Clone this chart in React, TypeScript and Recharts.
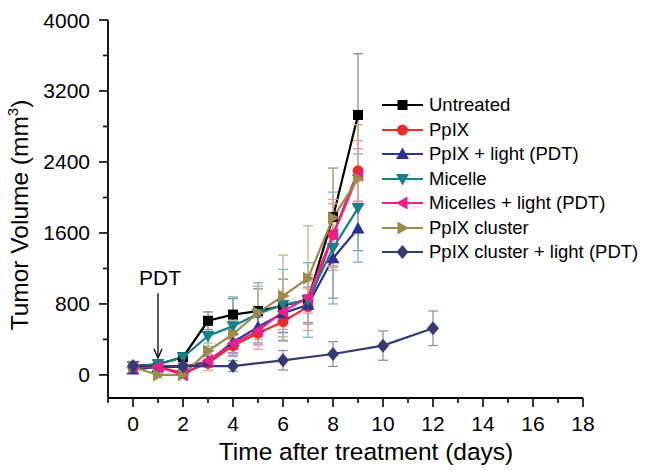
import { LineChart, Line, XAxis, YAxis, ErrorBar, Legend, ReferenceLine, Label } from "recharts";

const FONT = "'Liberation Sans', Arial, Helvetica, sans-serif";

// measurement days
const days = [0, 1, 2, 3, 4, 5, 6, 7, 8, 9];
const clusterLightDays = [0, 2, 4, 6, 8, 10, 12];

// tumor volumes (mm^3) and error bars
const untreated = [100, 120, 200, 610, 680, 720, 780, 850, 1780, 2930];
const untreatedErr = [30, 30, 40, 100, 180, 250, 300, 280, 550, 690];
const ppix = [80, 90, 20, 130, 330, 470, 600, 770, 1580, 2300];
const ppixErr = [30, 30, 30, 80, 120, 180, 220, 200, 400, 340];
const ppixLight = [60, 90, 90, 150, 370, 540, 695, 790, 1315, 1650];
const ppixLightErr = [40, 30, 30, 60, 120, 180, 220, 200, 450, 250];
const micelle = [100, 120, 200, 440, 550, 690, 790, 845, 1430, 1880];
const micelleErr = [30, 30, 40, 120, 330, 350, 400, 420, 630, 610];
const micelleLight = [90, 90, 0, 160, 350, 500, 713, 876, 1580, 2250];
const micelleLightErr = [30, 30, 30, 70, 110, 160, 200, 180, 350, 300];
const cluster = [90, 0, 0, 270, 460, 700, 890, 1090, 1770, 2210];
const clusterErr = [30, 30, 30, 90, 150, 300, 460, 590, 560, 610];
const clusterLight = [100, 100, 100, 165, 236, 330, 526];
const clusterLightErr = [30, 30, 60, 110, 140, 165, 195];

const xTicks = [-1, 0, 1, 2, 3, 4, 5, 6, 7, 8, 9, 10, 11, 12, 13, 14, 15, 16, 17, 18];
const yTicks = [0, 400, 800, 1200, 1600, 2000, 2400, 2800, 3200, 3600, 4000];

const rows = (xs: number[], ys: number[], es: number[]) =>
  xs.map((d, i) => ({ day: d, v: ys[i], err: es[i] }));

const series = [
  { key: "untreated", name: "Untreated", color: "#000000", err: "#8a8a8a", marker: "square", data: rows(days, untreated, untreatedErr) },
  { key: "ppix", name: "PpIX", color: "#ee2b2b", err: "#f29a9a", marker: "circle", data: rows(days, ppix, ppixErr) },
  { key: "ppixLight", name: "PpIX + light (PDT)", color: "#2f3192", err: "#8d8fc4", marker: "up", data: rows(days, ppixLight, ppixLightErr) },
  { key: "micelle", name: "Micelle", color: "#17808a", err: "#7ab6bd", marker: "down", data: rows(days, micelle, micelleErr) },
  { key: "micelleLight", name: "Micelles + light (PDT)", color: "#ec1e8e", err: "#f28cc2", marker: "left", data: rows(days, micelleLight, micelleLightErr) },
  { key: "cluster", name: "PpIX cluster", color: "#9e8a4c", err: "#c4b486", marker: "right", data: rows(days, cluster, clusterErr) },
  { key: "clusterLight", name: "PpIX cluster + light (PDT)", color: "#363a73", err: "#8e90ad", marker: "diamond", data: rows(clusterLightDays, clusterLight, clusterLightErr) },
];

function Marker({ kind, cx, cy, color }: { kind: string; cx: number; cy: number; color: string }) {
  if (cx == null || cy == null) return null;
  switch (kind) {
    case "square":
      return <rect x={cx - 5} y={cy - 5} width={10} height={10} fill={color} />;
    case "circle":
      return <circle cx={cx} cy={cy} r={5.5} fill={color} />;
    case "up":
      return <polygon points={`${cx},${cy - 6.5} ${cx - 6.5},${cy + 5} ${cx + 6.5},${cy + 5}`} fill={color} />;
    case "down":
      return <polygon points={`${cx},${cy + 6.5} ${cx - 6.5},${cy - 5} ${cx + 6.5},${cy - 5}`} fill={color} />;
    case "left":
      return <polygon points={`${cx - 6.5},${cy} ${cx + 5},${cy - 6.5} ${cx + 5},${cy + 6.5}`} fill={color} />;
    case "right":
      return <polygon points={`${cx + 6.5},${cy} ${cx - 5},${cy - 6.5} ${cx - 5},${cy + 6.5}`} fill={color} />;
    default:
      return <polygon points={`${cx},${cy - 7} ${cx + 6},${cy} ${cx},${cy + 7} ${cx - 6},${cy}`} fill={color} />;
  }
}

const XTick = (props: any) => {
  const { x, y, payload } = props;
  const v = payload.value;
  const major = v >= 0 && v % 2 === 0;
  return (
    <g>
      <line x1={x} y1={y} x2={x} y2={y + (major ? 9 : 5)} stroke="#000" strokeWidth={1.6} />
      {major && (
        <text x={x} y={y + 33} textAnchor="middle" fontSize={21} fontFamily={FONT} fill="#000">
          {v}
        </text>
      )}
    </g>
  );
};

const YTick = (props: any) => {
  const { x, y, payload } = props;
  const v = payload.value;
  const major = v % 800 === 0;
  return (
    <g>
      <line x1={x} y1={y} x2={x - (major ? 9 : 5)} y2={y} stroke="#000" strokeWidth={1.6} />
      {major && (
        <text x={x - 18} y={y + 7.5} textAnchor="end" fontSize={21} fontFamily={FONT} fill="#000">
          {v}
        </text>
      )}
    </g>
  );
};

const PdtArrow = (props: any) => {
  const { x1, y1, x2, y2 } = props;
  return (
    <g>
      <line x1={x1} y1={y1} x2={x2} y2={y2} stroke="#000" strokeWidth={1.3} />
      <polyline points={`${x2 - 4},${y2 - 9} ${x2},${y2} ${x2 + 4},${y2 - 9}`} fill="none" stroke="#000" strokeWidth={1.3} />
      <text x={x1 + 2} y={y1 - 8} textAnchor="middle" fontSize={21} fontFamily={FONT} fill="#000">
        PDT
      </text>
    </g>
  );
};

const renderLegend = () => (
  <div style={{ fontFamily: FONT, fontSize: 18.5, color: "#000" }}>
    {series.map((s) => (
      <div key={s.key} style={{ display: "flex", alignItems: "center", height: 24.5 }}>
        <svg width={47} height={20} style={{ display: "block", flex: "none" }}>
          <line x1={0} y1={10} x2={41} y2={10} stroke={s.color} strokeWidth={2.2} />
          <Marker kind={s.marker} cx={20.5} cy={10} color={s.color} />
        </svg>
        <span style={{ whiteSpace: "nowrap" }}>{s.name}</span>
      </div>
    ))}
  </div>
);

export default function App() {
  return (
    <div style={{ position: "absolute", left: 0, top: 0, background: "#fff" }}>
      <LineChart width={648} height={475} margin={{ top: 20, right: 65, bottom: 0, left: 0 }}>
        <XAxis
          type="number"
          dataKey="day"
          domain={[-1, 18]}
          ticks={xTicks}
          interval={0}
          height={77}
          tickSize={0}
          tickMargin={0}
          tickLine={false}
          axisLine={{ stroke: "#000", strokeWidth: 1.8 }}
          tick={<XTick />}
          allowDuplicatedCategory={false}
        >
          <Label
            content={(p: any) => (
              <text x={p.viewBox.x + 258} y={p.viewBox.y + 62} textAnchor="middle" fontSize={24.5} fontFamily={FONT} fill="#000">
                Time after treatment (days)
              </text>
            )}
          />
        </XAxis>
        <YAxis
          type="number"
          domain={[-260, 4000]}
          ticks={yTicks}
          interval={0}
          width={108}
          tickSize={0}
          tickMargin={0}
          tickLine={false}
          axisLine={{ stroke: "#000", strokeWidth: 1.8 }}
          tick={<YTick />}
        >
          <Label
            content={(p: any) => {
              const cx = 28;
              const cy = p.viewBox.y + 195;
              return (
                <text x={cx} y={cy} textAnchor="middle" fontSize={24.5} fontFamily={FONT} fill="#000" transform={`rotate(-90, ${cx}, ${cy})`}>
                  Tumor Volume (mm<tspan fontSize={15} dy={-10}>3</tspan>
                  <tspan dy={10}>)</tspan>
                </text>
              );
            }}
          />
        </YAxis>
        <ReferenceLine
          segment={[
            { x: 1, y: 920 },
            { x: 1, y: 190 },
          ]}
          shape={<PdtArrow />}
        />
        {series.map((s) => (
          <Line
            key={s.key}
            data={s.data}
            dataKey="v"
            name={s.name}
            type="linear"
            stroke={s.color}
            strokeWidth={2.2}
            isAnimationActive={false}
            activeDot={false}
            dot={(p: any) => <Marker key={`${s.key}-${p.index}`} kind={s.marker} cx={p.cx} cy={p.cy} color={s.color} />}
          >
            <ErrorBar dataKey="err" width={5} stroke={s.err} strokeWidth={1.3} direction="y" />
          </Line>
        ))}
        <Legend
          layout="vertical"
          align="center"
          verticalAlign="middle"
          content={renderLegend}
          wrapperStyle={{ left: 382, top: 92.75, width: 266 }}
        />
      </LineChart>
    </div>
  );
}
